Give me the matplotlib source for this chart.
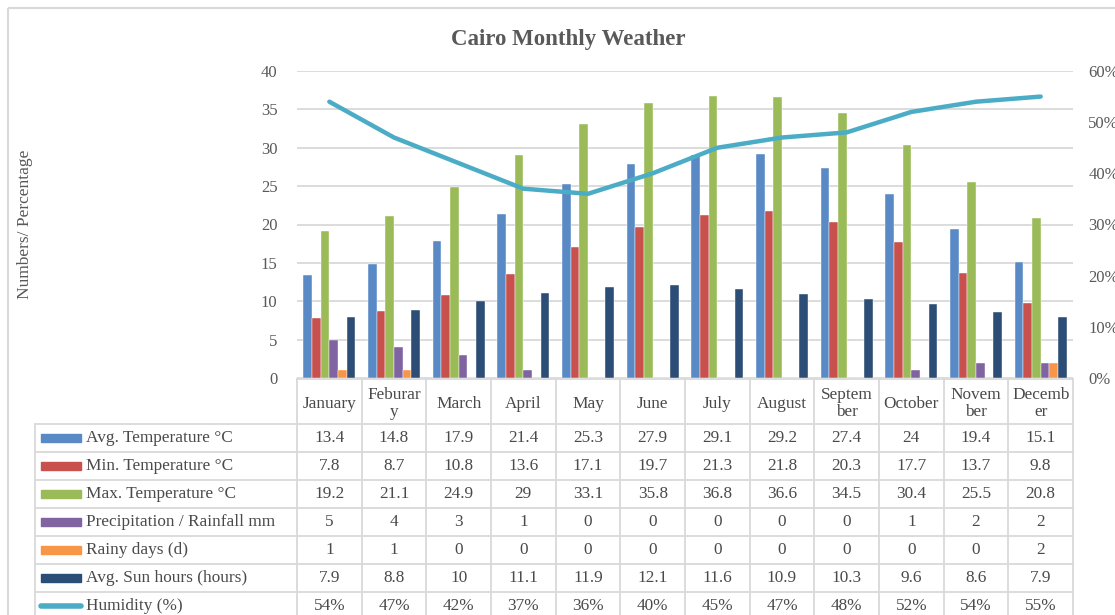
import numpy as np
import matplotlib.pyplot as plt
from matplotlib.ticker import PercentFormatter
from matplotlib.patches import Rectangle

plt.rcParams['font.family'] = ['Liberation Serif', 'DejaVu Serif']

# Datos
months = ['January', 'Feburar\ny', 'March', 'April', 'May', 'June', 'July',
          'August', 'Septem\nber', 'October', 'Novem\nber', 'Decemb\ner']
avg_temp = [13.4, 14.8, 17.9, 21.4, 25.3, 27.9, 29.1, 29.2, 27.4, 24, 19.4, 15.1]
min_temp = [7.8, 8.7, 10.8, 13.6, 17.1, 19.7, 21.3, 21.8, 20.3, 17.7, 13.7, 9.8]
max_temp = [19.2, 21.1, 24.9, 29, 33.1, 35.8, 36.8, 36.6, 34.5, 30.4, 25.5, 20.8]
rainfall = [5, 4, 3, 1, 0, 0, 0, 0, 0, 1, 2, 2]
rainy_days = [1, 1, 0, 0, 0, 0, 0, 0, 0, 0, 0, 2]
sun_hours = [7.9, 8.8, 10, 11.1, 11.9, 12.1, 11.6, 10.9, 10.3, 9.6, 8.6, 7.9]
humidity = [0.54, 0.47, 0.42, 0.37, 0.36, 0.40, 0.45, 0.47, 0.48, 0.52, 0.54, 0.55]

bar_series = [
    ('Avg. Temperature °C', avg_temp, '#5A8AC6'),
    ('Min. Temperature °C', min_temp, '#C8504D'),
    ('Max. Temperature °C', max_temp, '#9BBB59'),
    ('Precipitation / Rainfall mm', rainfall, '#8064A2'),
    ('Rainy days (d)', rainy_days, '#F79646'),
    ('Avg. Sun hours (hours)', sun_hours, '#2C4D75'),
]
hum_label = 'Humidity (%)'
hum_color = '#4BACC6'

COL_TEXT = '#595959'
COL_CELL = '#4A4A4A'
COL_GRID = '#D9D9D9'

W, H = 1115, 615
fig = plt.figure(figsize=(W / 100, H / 100), dpi=100, facecolor='white')

# Capa de fondo (coordenadas en píxeles) para borde y tabla
tax = fig.add_axes([0, 0, 1, 1], zorder=0)
tax.set_xlim(0, W)
tax.set_ylim(H, 0)
tax.axis('off')
tax.add_patch(Rectangle((8, 8), W + 20, H + 20, fill=False, edgecolor=COL_GRID, linewidth=1.5))

# Área de trazado
px0, px1, py_top, py_bot = 297, 1073, 71, 378
ax = fig.add_axes([px0 / W, 1 - py_bot / H, (px1 - px0) / W, (py_bot - py_top) / H], zorder=1)
ax.patch.set_alpha(0)
x = np.arange(len(months))
n = len(bar_series)
bw = 0.134
for k, (lab, vals, col) in enumerate(bar_series):
    ax.bar(x + (k - (n - 1) / 2) * bw, vals, width=bw, color=col, edgecolor='white', linewidth=0.3, zorder=3)

ax.set_xlim(-0.5, len(months) - 0.5)
ax.set_ylim(0, 40)
ax.set_yticks(range(0, 45, 5))
ax.set_xticks([])
ax.yaxis.grid(True, color=COL_GRID, linewidth=1.3)
ax.set_axisbelow(True)
for s in ax.spines.values():
    s.set_visible(False)
ax.tick_params(axis='y', length=0, pad=14, labelsize=12, labelcolor=COL_TEXT)

ax2 = ax.twinx()
ax2.plot(x, humidity, color=hum_color, linewidth=3.2, solid_capstyle='round', zorder=5)
ax2.set_ylim(0, 0.6)
ax2.set_yticks(np.arange(0, 0.61, 0.1))
ax2.yaxis.set_major_formatter(PercentFormatter(1.0, decimals=0))
for s in ax2.spines.values():
    s.set_visible(False)
ax2.tick_params(axis='y', length=0, pad=11, labelsize=12, labelcolor=COL_TEXT)

fig.text(568 / W, 1 - 40 / H, 'Cairo Monthly Weather', ha='center', va='center',
         fontsize=16.5, fontweight='bold', color=COL_TEXT)
fig.text(25 / W, 1 - 224 / H, 'Numbers/ Percentage', ha='center', va='center',
         rotation=90, fontsize=12.5, color=COL_TEXT)

# Tabla de datos
cw = (px1 - px0) / len(months)
lx = 35
head_top, head_bot = 379, 424
rh = 28
rows = [(lab, vals, col) for lab, vals, col in bar_series]
fmt = lambda v: f'{v:g}'
lw_t = 1.3

# Líneas horizontales
tax.plot([px0, px1], [head_top, head_top], color=COL_GRID, lw=lw_t)
n_rows = len(rows) + 1
for r in range(n_rows + 1):
    yy = head_bot + r * rh
    tax.plot([lx, px1], [yy, yy], color=COL_GRID, lw=lw_t)
# Líneas verticales
tax.plot([lx, lx], [head_bot, H + 5], color=COL_GRID, lw=lw_t)
for c in range(len(months) + 1):
    xx = px0 + c * cw
    tax.plot([xx, xx], [head_top, H + 5], color=COL_GRID, lw=lw_t)

fs = 12.4
for i, m in enumerate(months):
    tax.text(px0 + (i + 0.5) * cw, (head_top + head_bot) / 2 + 2, m, ha='center', va='center',
             fontsize=fs, color=COL_CELL, linespacing=1.12)

for r, (lab, vals, col) in enumerate(rows):
    yc = head_bot + (r + 0.5) * rh
    tax.add_patch(Rectangle((41, yc - 4), 40, 8, color=col))
    tax.text(86, yc, lab, ha='left', va='center', fontsize=fs, color=COL_CELL)
    for i, v in enumerate(vals):
        tax.text(px0 + (i + 0.5) * cw, yc, fmt(v), ha='center', va='center', fontsize=fs, color=COL_CELL)

yc = head_bot + (len(rows) + 0.5) * rh
tax.plot([41, 81], [yc, yc], color=hum_color, lw=4, solid_capstyle='round')
tax.text(86, yc, hum_label, ha='left', va='center', fontsize=fs, color=COL_CELL)
for i, v in enumerate(humidity):
    tax.text(px0 + (i + 0.5) * cw, yc, f'{v:.0%}', ha='center', va='center', fontsize=fs, color=COL_CELL)

fig.savefig('out.png', dpi=100)
